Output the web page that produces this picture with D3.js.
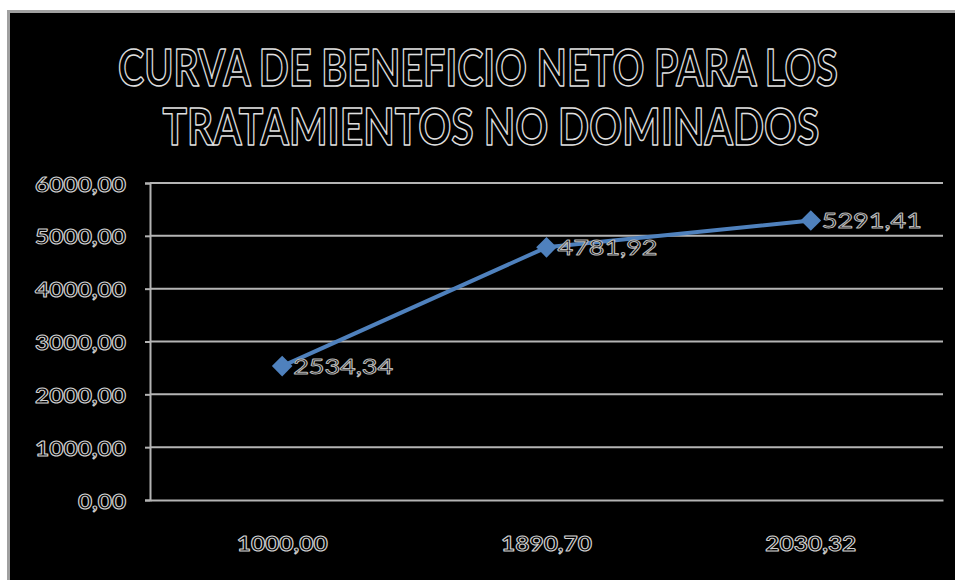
<!DOCTYPE html>
<html>
<head>
<meta charset="utf-8">
<script src="https://cdn.jsdelivr.net/npm/d3@7"></script>
<style>
  html, body { margin: 0; padding: 0; background: #ffffff; }
  svg { display: block; }
  text { opacity: 0.999; }
</style>
</head>
<body>
<svg id="chart" width="955" height="580"></svg>
<script>
// Net benefit curve for the non-dominated treatments
const categories = ["1000,00", "1890,70", "2030,32"];
const values = [2534.34, 4781.92, 5291.41];
const valueLabels = ["2534,34", "4781,92", "5291,41"];
const yTicks = [0, 1000, 2000, 3000, 4000, 5000, 6000];
const titleLines = ["CURVA DE BENEFICIO NETO PARA LOS", "TRATAMIENTOS NO DOMINADOS"];

const svg = d3.select("#chart");
const W = 955, H = 580;
const font = "Lato, 'Open Sans', 'DejaVu Sans', sans-serif";

// Chart frame: black panel with a grey border running off the right and bottom edges
svg.append("rect")
  .attr("x", 8.5).attr("y", 11.5)
  .attr("width", W).attr("height", H)
  .attr("fill", "#000")
  .attr("stroke", "#a0a0a0").attr("stroke-width", 3);

const plot = { left: 150, right: 943, top: 183, bottom: 500 };

const x = d3.scaleBand()
  .domain(categories)
  .range([plot.left, plot.right]);

const y = d3.scaleLinear()
  .domain([0, 6000])
  .range([plot.bottom, plot.top]);

const fmt = v => d3.format(".2f")(v).replace(".", ",");

// Outlined text helper: dark fill with light outline
function outlined(sel, stroke, sw) {
  return sel.attr("fill", "#000")
    .attr("stroke", stroke)
    .attr("stroke-width", sw)
    .attr("stroke-linejoin", "round");
}

// Title, two centred lines, narrowed horizontally to a condensed look
const titleX = [478, 491];
const titleY = [86, 145];
const titleW = [720, 657];
titleLines.forEach((t, i) => {
  const g = svg.append("g");
  const txt = outlined(g.append("text"), "#e0e0e0", 1.5)
    .attr("x", 0).attr("y", 0)
    .attr("text-anchor", "middle")
    .attr("font-family", font)
    .attr("font-weight", 700)
    .attr("font-size", 51)
    .text(t);
  const natural = txt.node().getComputedTextLength();
  g.attr("transform", `translate(${titleX[i]},${titleY[i]}) scale(${titleW[i] / natural},1)`);
});

// Horizontal gridlines
svg.append("g")
  .selectAll("line")
  .data(yTicks.filter(d => d > 0))
  .join("line")
  .attr("x1", plot.left).attr("x2", plot.right)
  .attr("y1", d => y(d)).attr("y2", d => y(d))
  .attr("stroke", "#b4b4b4").attr("stroke-width", 2);

// Y axis
const yAxis = svg.append("g")
  .attr("transform", `translate(${plot.left},0)`)
  .call(d3.axisLeft(y).tickValues(yTicks).tickSize(5).tickPadding(19).tickFormat(fmt));
yAxis.select(".domain").attr("stroke", "#b4b4b4").attr("stroke-width", 2);
yAxis.selectAll(".tick line").attr("stroke", "#b4b4b4").attr("stroke-width", 2);
yAxis.selectAll(".tick text")
  .attr("font-family", font)
  .attr("font-weight", 700)
  .attr("font-size", 20)
  .attr("dy", "0.4em")
  .attr("textLength", function(d) { return d === 0 ? 48 : 91; })
  .attr("lengthAdjust", "spacingAndGlyphs")
  .call(s => outlined(s, "#d0d0d0", 1));

// X axis
const xAxis = svg.append("g")
  .attr("transform", `translate(0,${plot.bottom})`)
  .call(d3.axisBottom(x).tickSize(0).tickPadding(37));
xAxis.select(".domain").attr("stroke", "#b4b4b4").attr("stroke-width", 2);
xAxis.selectAll(".tick text")
  .attr("font-family", font)
  .attr("font-weight", 700)
  .attr("font-size", 20)
  .attr("textLength", 91)
  .attr("lengthAdjust", "spacingAndGlyphs")
  .call(s => outlined(s, "#d0d0d0", 1));

// Series line
const pts = categories.map((c, i) => [x(c) + x.bandwidth() / 2, y(values[i])]);
svg.append("path")
  .datum(pts)
  .attr("d", d3.line())
  .attr("fill", "none")
  .attr("stroke", "#4f81bd")
  .attr("stroke-width", 4)
  .attr("stroke-linejoin", "round");

// Diamond markers
svg.append("g")
  .selectAll("path")
  .data(pts)
  .join("path")
  .attr("transform", d => `translate(${d[0]},${d[1]})`)
  .attr("d", d3.symbol(d3.symbolDiamond2, 270))
  .attr("fill", "#4f81bd");

// Data labels to the right of each point
svg.append("g")
  .selectAll("text")
  .data(pts)
  .join("text")
  .attr("x", d => d[0] + 11)
  .attr("y", d => d[1] + 8)
  .attr("font-family", font)
  .attr("font-size", 21)
  .attr("textLength", 100)
  .attr("lengthAdjust", "spacingAndGlyphs")
  .text((d, i) => valueLabels[i])
  .call(s => outlined(s, "#b8b8b8", 1));
</script>
</body>
</html>
